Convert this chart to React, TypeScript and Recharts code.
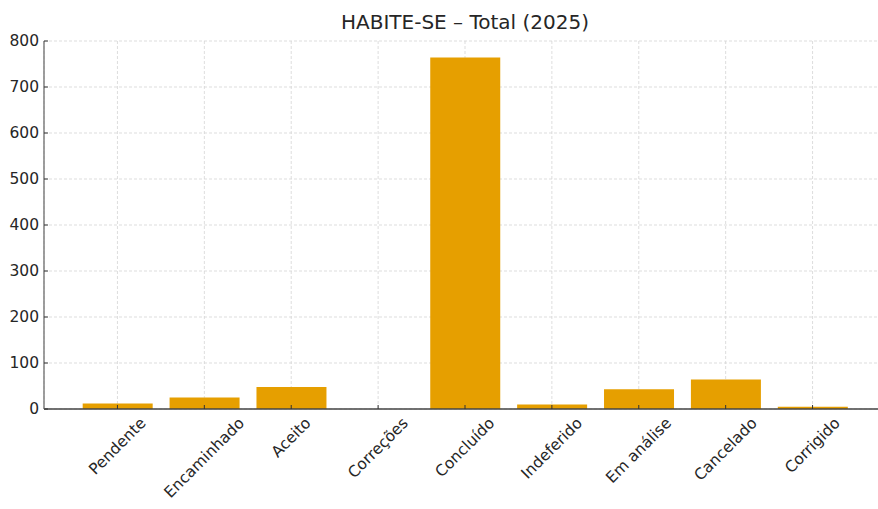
import React from 'react';
import { BarChart, Bar, XAxis, YAxis, CartesianGrid } from 'recharts';

const categories = ['Pendente', 'Encaminhado', 'Aceito', 'Correções', 'Concluído', 'Indeferido', 'Em análise', 'Cancelado', 'Corrigido'];
const totals = [12, 25, 48, 0, 764, 10, 43, 64, 5];
const yTicks = [0, 100, 200, 300, 400, 500, 600, 700, 800];
const title = 'HABITE-SE – Total (2025)';

const data = categories.map((name, i) => ({ name, total: totals[i] }));

const FONT = '"DejaVu Sans", sans-serif';
const FS = 15.5;
const TEXT = '#262626';

let ctx: CanvasRenderingContext2D | null = null;
function measure(t: string): number {
  if (!ctx) ctx = document.createElement('canvas').getContext('2d');
  if (!ctx) return t.length * FS * 0.6;
  ctx.font = `${FS}px "DejaVu Sans"`;
  return ctx.measureText(t).width;
}

const XTick = (props: any) => {
  const { x, y, payload } = props;
  const label = String(payload.value);
  const w = measure(label);
  const h = FS * 1.0;
  const pad = 6;
  const bb = (w + h) * Math.SQRT1_2;
  const cy = y + pad + bb / 2;
  return (
    <g>
      <line x1={x} x2={x} y1={y} y2={y - 4} stroke="#333" strokeWidth={1} />
      <text
        x={x}
        y={cy}
        textAnchor="middle"
        dominantBaseline="central"
        transform={`rotate(-45 ${x} ${cy})`}
        fontFamily={FONT}
        fontSize={FS}
        fill={TEXT}
      >
        {label}
      </text>
    </g>
  );
};

const YTick = (props: any) => {
  const { x, y, payload } = props;
  return (
    <g>
      <line x1={x} x2={x + 4} y1={y} y2={y} stroke="#333" strokeWidth={1} />
      <text x={x - 5} y={y} textAnchor="end" dominantBaseline="central" fontFamily={FONT} fontSize={FS} fill={TEXT}>
        {payload.value}
      </text>
    </g>
  );
};

export default function App() {
  return (
    <div style={{ position: 'absolute', left: 0, top: 0, width: 878, height: 509, overflow: 'hidden', background: '#fff' }}>
      <div
        style={{
          position: 'absolute',
          left: 0,
          width: 930,
          top: 10,
          textAlign: 'center',
          fontFamily: FONT,
          fontSize: 20,
          color: TEXT,
          lineHeight: '24px',
        }}
      >
        {title}
      </div>
      <BarChart
        width={900}
        height={509}
        data={data}
        margin={{ top: 41, right: 14, bottom: 0, left: 0 }}
        barCategoryGap="10%"
        style={{ position: 'absolute', left: 0, top: 0 }}
      >
        <CartesianGrid stroke="#d4d4d4" strokeDasharray="3 2" strokeWidth={0.8} />
        <XAxis
          dataKey="name"
          type="category"
          interval={0}
          padding={{ left: 30, right: 30 }}
          height={100}
          tickSize={0}
          tickMargin={0}
          tickLine={false}
          axisLine={{ stroke: '#444', strokeWidth: 1.4 }}
          tick={<XTick />}
        />
        <YAxis
          type="number"
          domain={[0, 800]}
          ticks={yTicks}
          interval={0}
          width={44}
          tickSize={0}
          tickMargin={0}
          tickLine={false}
          axisLine={{ stroke: '#777', strokeWidth: 1.4 }}
          tick={<YTick />}
        />
        <Bar dataKey="total" fill="#E69F00" isAnimationActive={false} />
      </BarChart>
    </div>
  );
}
